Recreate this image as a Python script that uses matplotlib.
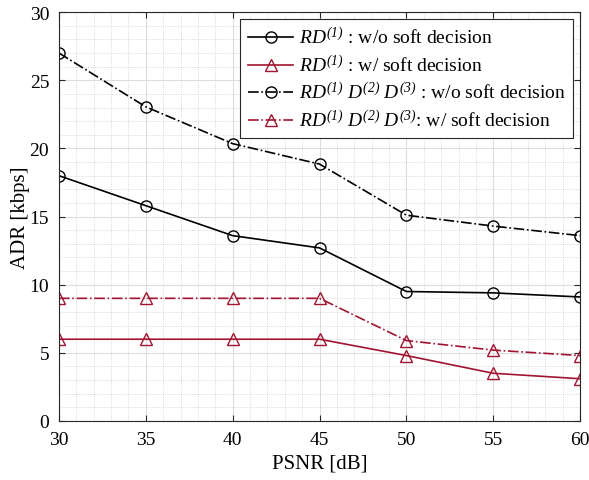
import numpy as np
import matplotlib
matplotlib.use('Agg')
import matplotlib.pyplot as plt
from matplotlib.ticker import MultipleLocator

plt.rcParams['font.family'] = ['Liberation Serif', 'DejaVu Serif']
plt.rcParams['mathtext.fontset'] = 'custom'
plt.rcParams['mathtext.rm'] = 'Liberation Serif:italic'
plt.rcParams['mathtext.it'] = 'Liberation Serif:italic'

# データ
psnr = [30, 35, 40, 45, 50, 55, 60]
rd1_wo = [18.0, 15.8, 13.6, 12.7, 9.5, 9.4, 9.1]
rd1_w = [6.0, 6.0, 6.0, 6.0, 4.8, 3.5, 3.1]
rd123_wo = [27.0, 23.05, 20.35, 18.85, 15.1, 14.3, 13.6]
rd123_w = [9.0, 9.0, 9.0, 9.0, 5.9, 5.2, 4.8]

labels = [r'$RD^{(1)}$ : w/o soft decision',
          r'$RD^{(1)}$ : w/ soft decision',
          r'$RD^{(1)}\ D^{(2)}\ D^{(3)}$ : w/o soft decision',
          r'$RD^{(1)}\ D^{(2)}\ D^{(3)}$: w/ soft decision']

red = '#A2142F'

fig = plt.figure(figsize=(5.89, 4.81), dpi=100)
ax = fig.add_axes([0.100, 0.1227, 0.885, 0.850])

ax.plot(psnr, rd1_wo, '-', color='k', marker='o', mfc='none', ms=8, lw=1.2, label=labels[0])
ax.plot(psnr, rd1_w, '-', color=red, marker='^', mfc='none', ms=8, lw=1.2, label=labels[1])
ax.plot(psnr, rd123_wo, '-.', color='k', marker='o', mfc='none', ms=8, lw=1.2, label=labels[2])
ax.plot(psnr, rd123_w, '-.', color=red, marker='^', mfc='none', ms=8, lw=1.2, label=labels[3])

ax.set_xlim(30, 60)
ax.set_ylim(0, 30)
ax.xaxis.set_major_locator(MultipleLocator(5))
ax.yaxis.set_major_locator(MultipleLocator(5))
ax.xaxis.set_minor_locator(MultipleLocator(1))
ax.yaxis.set_minor_locator(MultipleLocator(1))
ax.grid(which='major', color='#dddddd', lw=0.8)
ax.grid(which='minor', color='#cccccc', lw=0.6, ls=':')
ax.set_axisbelow(True)
ax.tick_params(which='both', direction='in', top=True, right=True, labelsize=14, color='#262626')
ax.tick_params(which='minor', length=0)
ax.tick_params(which='major', length=4, pad=7)
for s in ax.spines.values():
    s.set_color('#262626')
    s.set_linewidth(0.8)

ax.set_xlabel('PSNR [dB]', fontsize=15, labelpad=4)
ax.set_ylabel('ADR [kbps]', fontsize=15, labelpad=0)

leg = ax.legend(loc='upper right', fontsize=14, fancybox=False, framealpha=1,
                edgecolor='#262626', handlelength=2.3, borderaxespad=0.35,
                labelspacing=0.33, handletextpad=0.3, borderpad=0.4)
leg.get_frame().set_linewidth(0.8)

plt.savefig('out.png', dpi=100)
